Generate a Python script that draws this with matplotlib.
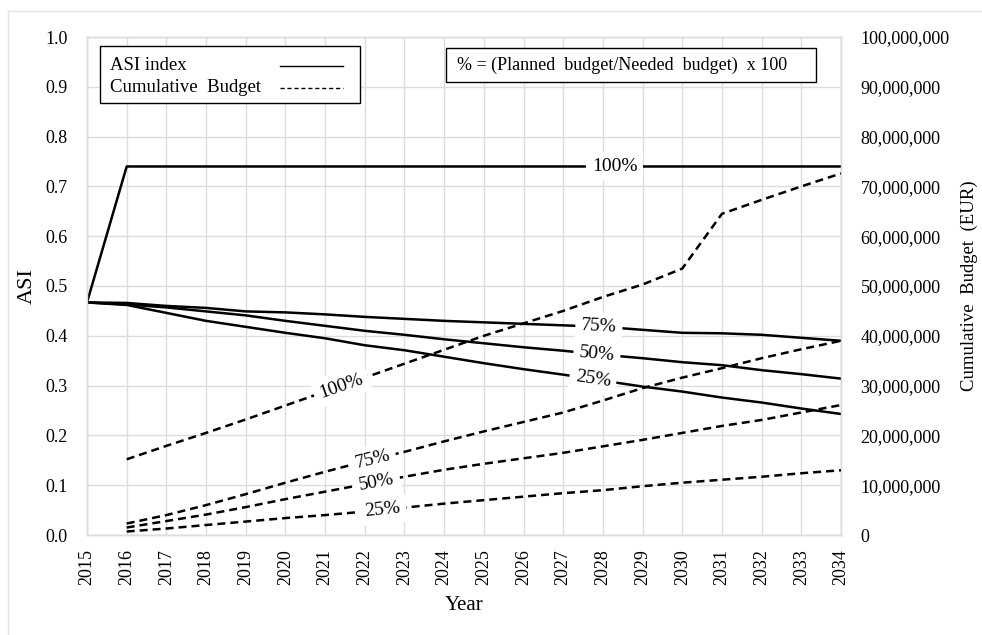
import matplotlib
matplotlib.use("Agg")
import matplotlib.pyplot as plt
import numpy as np
from matplotlib.lines import Line2D
from matplotlib.patches import Rectangle
from matplotlib.ticker import FuncFormatter, MultipleLocator

plt.rcParams['font.family'] = ['Liberation Serif', 'DejaVu Serif']

years = list(range(2015, 2035))
budget_years = years[1:]
shares = ["100%", "75%", "50%", "25%"]

# ASI index per scenario (share of needed budget that is planned)
asi_100 = [0.467, 0.740, 0.740, 0.740, 0.740, 0.740, 0.740, 0.740, 0.740, 0.740,
           0.740, 0.740, 0.740, 0.740, 0.740, 0.740, 0.740, 0.740, 0.740, 0.740]
asi_75 = [0.467, 0.466, 0.460, 0.456, 0.449, 0.447, 0.443, 0.438, 0.434, 0.430,
          0.427, 0.424, 0.421, 0.418, 0.412, 0.406, 0.405, 0.402, 0.396, 0.390]
asi_50 = [0.467, 0.463, 0.457, 0.449, 0.441, 0.430, 0.420, 0.410, 0.402, 0.393,
          0.385, 0.377, 0.370, 0.362, 0.355, 0.347, 0.341, 0.331, 0.323, 0.314]
asi_25 = [0.467, 0.462, 0.446, 0.430, 0.418, 0.406, 0.395, 0.381, 0.371, 0.358,
          0.345, 0.333, 0.322, 0.310, 0.298, 0.288, 0.276, 0.266, 0.254, 0.243]

# Cumulative budget (EUR), 2016-2034
budget_100 = [15.2e6, 17.9e6, 20.5e6, 23.2e6, 26.0e6, 28.8e6, 31.6e6, 34.4e6, 37.2e6, 40.0e6,
              42.5e6, 45.0e6, 47.8e6, 50.3e6, 53.5e6, 64.5e6, 67.3e6, 70.0e6, 72.6e6]
budget_75 = [2.3e6, 4.0e6, 6.0e6, 8.2e6, 10.5e6, 12.7e6, 14.8e6, 16.7e6, 18.8e6, 20.8e6,
             22.7e6, 24.6e6, 27.0e6, 29.5e6, 31.6e6, 33.5e6, 35.5e6, 37.3e6, 39.0e6]
budget_50 = [1.5e6, 2.8e6, 4.1e6, 5.6e6, 7.2e6, 8.7e6, 10.2e6, 11.7e6, 13.1e6, 14.3e6,
             15.4e6, 16.5e6, 17.8e6, 19.1e6, 20.5e6, 21.9e6, 23.1e6, 24.6e6, 26.1e6]
budget_25 = [0.7e6, 1.3e6, 2.0e6, 2.7e6, 3.4e6, 4.0e6, 4.7e6, 5.5e6, 6.3e6, 7.0e6,
             7.7e6, 8.4e6, 9.0e6, 9.8e6, 10.5e6, 11.1e6, 11.7e6, 12.4e6, 13.0e6]

asi_series = [asi_100, asi_75, asi_50, asi_25]
budget_series = [budget_100, budget_75, budget_50, budget_25]

W, H = 982, 635
fig = plt.figure(figsize=(W / 100, H / 100), dpi=100)
L, R, T, B = 87, 841, 37, 535
ax = fig.add_axes([L / W, 1 - B / H, (R - L) / W, (B - T) / H])
ax2 = ax.twinx()

grid_c = "#dcdcdc"
dash = (0, (3.2, 2.0))
lw = 1.8

for s in asi_series:
    ax.plot(years, s, color="black", lw=lw, solid_joinstyle="round", zorder=3)
for s in budget_series:
    ax2.plot(budget_years, s, color="black", lw=lw, linestyle=dash, zorder=3)

ax.set_xlim(2015, 2034)
ax.set_ylim(0, 1.0)
ax2.set_ylim(0, 100e6)
ax.xaxis.set_major_locator(MultipleLocator(1))
ax.yaxis.set_major_locator(MultipleLocator(0.1))
ax2.yaxis.set_major_locator(MultipleLocator(10e6))
ax.yaxis.set_major_formatter(FuncFormatter(lambda v, p: f"{v:.1f}"))
ax2.yaxis.set_major_formatter(FuncFormatter(lambda v, p: f"{v:,.0f}"))
ax.set_xticks(years)
ax.set_xticklabels([str(y) for y in years], rotation=90)

ax.grid(True, color=grid_c, lw=1.0, zorder=0)
ax.set_axisbelow(True)
for a in (ax, ax2):
    for sp in a.spines.values():
        sp.set_color(grid_c)
        sp.set_linewidth(1.0)
    a.tick_params(length=0, labelsize=13)
ax.tick_params(axis="y", pad=14)
ax.tick_params(axis="x", pad=10)
ax2.tick_params(axis="y", pad=14)

ax.set_ylabel("ASI", fontsize=16, labelpad=6)
ax.set_xlabel("Year", fontsize=15, labelpad=8)
ax2.set_ylabel("Cumulative  Budget  (EUR)", fontsize=13.5, labelpad=8)


def inline_label(a, xs, ys, x, text, fs=14):
    y = np.interp(x, xs, ys)
    p0 = a.transData.transform((x - 0.4, np.interp(x - 0.4, xs, ys)))
    p1 = a.transData.transform((x + 0.4, np.interp(x + 0.4, xs, ys)))
    ang = np.degrees(np.arctan2(p1[1] - p0[1], p1[0] - p0[0]))
    a.text(x, y, text, fontsize=fs, rotation=ang, rotation_mode="anchor",
           ha="center", va="center", zorder=5,
           bbox=dict(boxstyle="square,pad=0.3", fc="white", ec="none"))


asi_label_x = [2028.3, 2027.9, 2027.85, 2027.75]
budget_label_x = [2021.4, 2022.2, 2022.3, 2022.45]
for s, xl, t in zip(asi_series, asi_label_x, shares):
    inline_label(ax, years, s, xl, t)
for s, xl, t in zip(budget_series, budget_label_x, shares):
    inline_label(ax2, budget_years, s, xl, t)

# legend box
ft = fig.transFigure
def fx(px):
    return px / W
def fy(py):
    return 1 - py / H

fig.patches.append(Rectangle((fx(100), fy(103)), (260) / W, (57) / H, transform=ft,
                             fc="white", ec="black", lw=1.0, zorder=10))
fig.text(fx(110), fy(66), "ASI index", fontsize=13.5, va="center", ha="left", zorder=11)
fig.text(fx(110), fy(88), "Cumulative  Budget", fontsize=13.5, va="center", ha="left", zorder=11)
fig.lines.append(Line2D([fx(280), fx(343)], [fy(66), fy(66)], transform=ft,
                        color="black", lw=1.0, zorder=11))
fig.lines.append(Line2D([fx(280), fx(343)], [fy(88), fy(88)], transform=ft,
                        color="black", lw=1.0, linestyle=(0, (3, 2)), zorder=11))

# formula box
fig.patches.append(Rectangle((fx(446), fy(82)), (370) / W, (34) / H, transform=ft,
                             fc="white", ec="black", lw=1.0, zorder=10))
fig.text(fx(622), fy(65), "% = (Planned  budget/Needed  budget)  x 100", fontsize=13,
         va="center", ha="center", zorder=11)

# outer frame edges
fig.lines.append(Line2D([fx(7.5), fx(7.5)], [0, fy(11)], transform=ft, color="#e3e3e3", lw=1.0))
fig.lines.append(Line2D([fx(7.5), 1], [fy(11), fy(11)], transform=ft, color="#e3e3e3", lw=1.0))

fig.savefig("out.png", dpi=100)
